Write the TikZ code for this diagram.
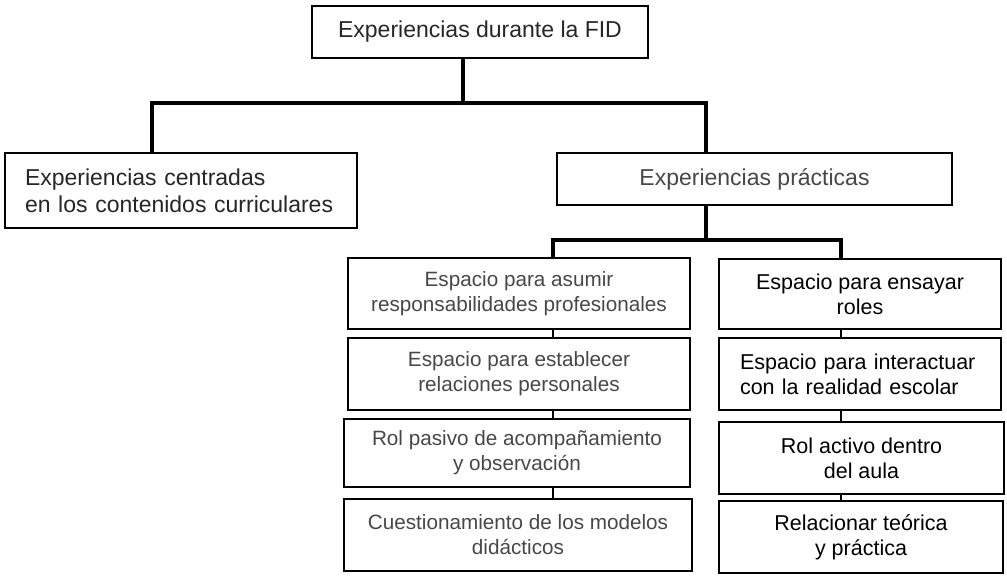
\documentclass[tikz,border=0pt]{standalone}
\usepackage{fontspec}
\setmainfont{Liberation Sans}
\begin{document}
\begin{tikzpicture}[x=1pt,y=-1pt,
  caja/.style={draw, line width=1.7pt, inner sep=0pt, align=center, minimum height=72pt},
  grande/.style={font=\fontsize{23}{27}\selectfont, text=black!85},
  chico/.style={font=\fontsize{20.7}{25}\selectfont, text=black!72},
  negro/.style={font=\fontsize{21.5}{25}\selectfont, text=black},
  rama/.style={line width=3.2pt},
  eslabon/.style={line width=2.6pt}]%FID
\useasboundingbox (0,0) rectangle (1007,577);
\node[caja, grande, minimum width=336pt, minimum height=52pt] (fid) at (480,32) {Experiencias durante la FID};
\node[caja, grande, text width=312pt, inner xsep=20pt, align=left, minimum height=75pt] (centradas) at (181,190.5) {Experiencias centradas\\ en los contenidos curriculares};
\node[caja, grande, text=black!72, minimum width=395pt, minimum height=52pt] (practicas) at (754.5,179) {Experiencias pr\'acticas};
%columna izquierda
\node[caja, chico, minimum width=342pt, minimum height=71pt] (a1) at (519,293.5) {Espacio para asumir\\responsabilidades profesionales};
\node[caja, chico, minimum width=342pt] (a2) at (519,374) {Espacio para establecer\\relaciones personales};
\node[caja, chico, minimum width=346pt, minimum height=68pt] (a3) at (517,453) {Rol pasivo de acompa\~namiento\\y observaci\'on};
\node[caja, chico, minimum width=348pt] (a4) at (518,535) {Cuestionamiento de los modelos\\did\'acticos};
%columna derecha
\node[caja, negro, minimum width=282pt, minimum height=70pt] (b1) at (860,294) {Espacio para ensayar\\roles};
\node[caja, negro, text width=240pt, inner xsep=21pt, align=left] (b2) at (860,374) {Espacio para interactuar\\con la realidad escolar};
\node[caja, negro, minimum width=285pt] (b3) at (861.5,458) {Rol activo dentro\\del aula};
\node[caja, negro, minimum width=284pt] (b4) at (861,537) {Relacionar te\'orica\\y pr\'actica};
%conectores
\coordinate (troncoFid) at (463,103);
\coordinate (ramaIzq) at (152,103);
\coordinate (ramaDer) at (706,103);
\coordinate (troncoPrac) at (706,240);
\coordinate (ramaA) at (553,240);
\coordinate (ramaB) at (841,240);
\draw[rama] (fid.south -| troncoFid) -- (troncoFid);
\draw[rama] (centradas.north -| ramaIzq) |- (ramaDer) -- (practicas.north -| ramaDer);
\draw[rama] (practicas.south -| troncoPrac) -- (troncoPrac);
\draw[rama] (a1.north -| ramaA) |- (ramaB) -- (b1.north -| ramaB);
\foreach \p/\q in {a1/a2,a2/a3,a3/a4}
  \draw[eslabon] (\p.south -| ramaA) -- (\q.north -| ramaA);
\foreach \p/\q in {b1/b2,b2/b3,b3/b4}
  \draw[eslabon] (\p.south -| ramaB) -- (\q.north -| ramaB);
\end{tikzpicture}
\end{document}
